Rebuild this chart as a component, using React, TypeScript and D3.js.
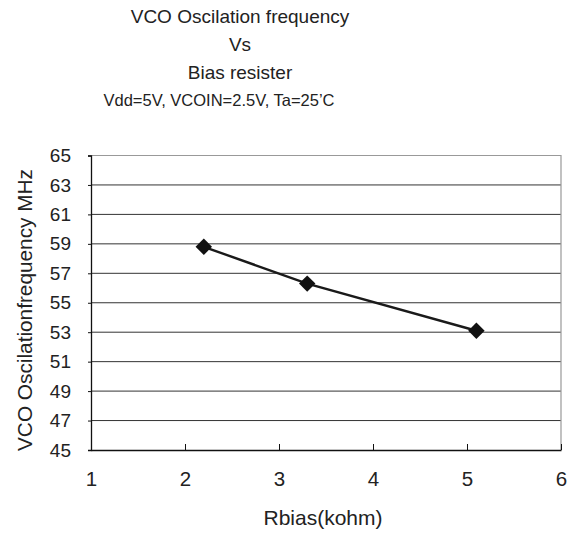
import React, { useEffect, useRef } from "react"
import * as d3 from "d3"

const WIDTH = 578
const HEIGHT = 535
const MARGIN = { top: 155.5, right: 17, bottom: 85, left: 91 }

// Rbias (kohm) vs VCO frequency (MHz)
const rbias = [2.2, 3.3, 5.1]
const freq = [58.8, 56.3, 53.1]
const xTicks = [1, 2, 3, 4, 5, 6]
const yTicks = [45, 47, 49, 51, 53, 55, 57, 59, 61, 63, 65]

const titleLines = ["VCO Oscilation frequency", "Vs", "Bias resister"]
const subtitle = "Vdd=5V, VCOIN=2.5V, Ta=25’C"
const xLabel = "Rbias(kohm)"
const yLabel = "VCO Oscilationfrequency MHz"

const FONT = "'Liberation Sans', Arial, sans-serif"

const App: React.FC = () => {
    const svgRef = useRef<SVGSVGElement | null>(null)

    useEffect(() => {
        if (!svgRef.current) return
        const svg = d3.select(svgRef.current)
        svg.selectAll("*").remove()

        const innerWidth = WIDTH - MARGIN.left - MARGIN.right
        const innerHeight = HEIGHT - MARGIN.top - MARGIN.bottom

        const x = d3.scaleLinear().domain([1, 6]).range([0, innerWidth])
        const y = d3.scaleLinear().domain([45, 65]).range([innerHeight, 0])

        svg.append("rect").attr("width", WIDTH).attr("height", HEIGHT).attr("fill", "#fff")

        // titles
        const titleY = [23, 51, 79]
        titleLines.forEach((t, i) => {
            svg.append("text")
                .attr("x", 240)
                .attr("y", titleY[i])
                .attr("text-anchor", "middle")
                .style("font-family", FONT)
                .style("font-size", "19px")
                .attr("fill", "#222")
                .text(t)
        })
        svg.append("text")
            .attr("x", 219)
            .attr("y", 105.5)
            .attr("text-anchor", "middle")
            .style("font-family", FONT)
            .style("font-size", "16.5px")
            .attr("fill", "#222")
            .text(subtitle)

        const chart = svg.append("g")
            .attr("transform", `translate(${MARGIN.left},${MARGIN.top})`)

        // gridlines
        chart.append("g")
            .selectAll("line")
            .data(yTicks.filter(d => d !== 45 && d !== 65))
            .enter()
            .append("line")
            .attr("x1", 0)
            .attr("x2", innerWidth)
            .attr("y1", d => y(d))
            .attr("y2", d => y(d))
            .attr("stroke", "#333")
            .attr("stroke-width", 1)

        // top + right border (grey)
        chart.append("path")
            .attr("d", `M0,${y(65)}H${innerWidth}V${innerHeight}`)
            .attr("fill", "none")
            .attr("stroke", "#999")
            .attr("stroke-width", 1.2)

        // y axis
        const yAxis = d3.axisLeft(y).tickValues(yTicks).tickSize(3).tickPadding(17)
        const yg = chart.append("g").call(yAxis)
        yg.select(".domain").attr("stroke", "#111").attr("stroke-width", 1.3)
        yg.selectAll(".tick line").attr("stroke", "#111")
        yg.selectAll("text")
            .style("font-family", FONT)
            .style("font-size", "19px")
            .attr("fill", "#222")

        // x axis (ticks pointing inward)
        const xAxis = d3.axisBottom(x)
            .tickValues(xTicks)
            .tickFormat(d3.format("d"))
            .tickSize(-6)
            .tickSizeOuter(0)
            .tickPadding(21.5)
        const xg = chart.append("g").attr("transform", `translate(0,${innerHeight})`).call(xAxis)
        xg.select(".domain").attr("stroke", "#111").attr("stroke-width", 1.3)
        xg.selectAll(".tick line").attr("stroke", "#111")
        xg.selectAll("text")
            .style("font-family", FONT)
            .style("font-size", "20.5px")
            .attr("fill", "#222")

        // axis labels
        svg.append("text")
            .attr("x", 323)
            .attr("y", 525)
            .attr("text-anchor", "middle")
            .style("font-family", FONT)
            .style("font-size", "21px")
            .attr("fill", "#222")
            .text(xLabel)

        svg.append("text")
            .attr("transform", `translate(32,310) rotate(-90)`)
            .attr("text-anchor", "middle")
            .style("font-family", FONT)
            .style("font-size", "20.8px")
            .attr("fill", "#222")
            .text(yLabel)

        // series
        const pts = rbias.map((r, i) => [r, freq[i]] as [number, number])
        const line = d3.line<[number, number]>().x(d => x(d[0])).y(d => y(d[1]))
        chart.append("path")
            .attr("d", line(pts)!)
            .attr("fill", "none")
            .attr("stroke", "#1a1a1a")
            .attr("stroke-width", 2.4)

        const diamond = d3.symbol().type(d3.symbolSquare).size(135)
        chart.selectAll(".pt")
            .data(pts)
            .enter()
            .append("path")
            .attr("class", "pt")
            .attr("d", diamond()!)
            .attr("transform", d => `translate(${x(d[0])},${y(d[1])}) rotate(45)`)
            .attr("fill", "#111")
    }, [])

    return (
        <svg
            ref={svgRef}
            width={WIDTH}
            height={HEIGHT}
            style={{ position: "absolute", left: 0, top: 0 }}
        />
    )
}

export default App
